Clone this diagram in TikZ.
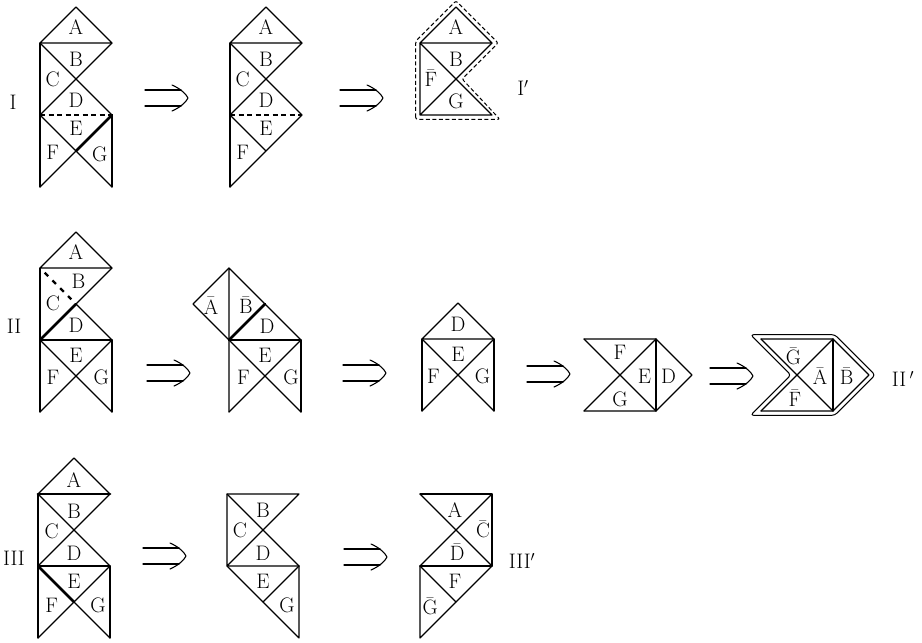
\documentclass[tikz,border=0pt]{standalone}
\usepackage{amsmath}
\usepackage{tikz}
\def\lbl{\fontsize{21}{23}\selectfont}
\def\bb#1{$\bar{\mathrm{#1}}$}
\newcommand{\foldarrow}[2]{%
  \draw (#1,#2-8) -- ++(36,0) (#1,#2+8) -- ++(36,0);
  \draw (#1+27,#2-13) .. controls (#1+36,#2-9) and (#1+41,#2-4) .. (#1+43,#2) .. controls (#1+41,#2+4) and (#1+36,#2+9) .. (#1+27,#2+13);}

\begin{document}
\begin{tikzpicture}[x=1pt,y=-1pt,line width=1.1pt,line join=round,line cap=round,
  fold/.style={line width=2.7pt},
  crease/.style={line width=2pt,dash pattern=on 5pt off 3.5pt,line cap=butt},
  slit/.style={line width=2.2pt,dash pattern=on 5pt off 6pt,line cap=butt},
  hem/.style={line width=1pt,dash pattern=on 4pt off 2.5pt,line cap=butt,rounded corners=2pt},
  rim/.style={line width=1pt,rounded corners=3pt},
  lab/.style={font=\lbl,inner sep=0pt}]
\useasboundingbox (0,0) rectangle (922,643);

%% row I
\node[lab] (rowI) at (13,102) {I};
\begin{scope}[shift={(40,187)},x=36pt,y=36pt]
\draw (0,4) -- (1,5) -- (2,4) -- cycle;
\draw (0,0) -- (0,4) (2,0) -- (2,2);
\draw (0,4) -- (2,2) (2,4) -- (0,2);
\draw (0,2) -- (2,0) (2,2) -- (0,0);
\draw[crease] (0,2) -- (2,2);
\draw[fold] (2,2) -- (1,1);
\node[lab] (f1A) at (1,4.45) {A};
\node[lab] (f1B) at (1,3.55) {B};
\node[lab] (f1C) at (0.35,3) {C};
\node[lab] (f1D) at (1,2.42) {D};
\node[lab] (f1E) at (1,1.62) {E};
\node[lab] (f1F) at (0.35,0.97) {F};
\node[lab] (f1G) at (1.66,0.92) {G};
\end{scope}

\begin{scope}[shift={(230,187)},x=36pt,y=36pt]
\draw (0,4) -- (1,5) -- (2,4) -- cycle;
\draw (0,0) -- (0,4);
\draw (0,4) -- (2,2) (2,4) -- (0,2);
\draw (2,2) -- (0,0) (0,2) -- (1,1);
\draw[crease] (0,2) -- (2,2);
\node[lab] (f2A) at (1,4.45) {A};
\node[lab] (f2B) at (1,3.55) {B};
\node[lab] (f2C) at (0.35,3) {C};
\node[lab] (f2D) at (1,2.42) {D};
\node[lab] (f2E) at (1,1.62) {E};
\node[lab] (f2F) at (0.35,0.97) {F};
\end{scope}

\begin{scope}[shift={(420,187)},x=36pt,y=36pt]
\draw (0,4) -- (1,5) -- (2,4) -- cycle;
\draw (0,2) -- (0,4) -- (2,2) -- (0,2) -- (2,4);
\draw[hem] (-0.12,1.88) -- (-0.12,4.05) -- (1,5.17) -- (2.17,4) -- (1.17,3) -- (2.22,1.88) -- cycle;
\node[lab] (f3A) at (1,4.45) {A};
\node[lab] (f3B) at (1,3.55) {B};
\node[lab] (f3Fb) at (0.3,3.02) {\bb F};
\node[lab] (f3G) at (1,2.38) {G};
\end{scope}
\node[lab] (rowIp) at (523,88) {I$'$};

\foldarrow{145}{98}
\foldarrow{340}{98}

%% row II
\node[lab] (rowII) at (14,326) {II};
\begin{scope}[shift={(40,412)},x=36pt,y=36pt]
\draw (0,4) -- (1,5) -- (2,4) -- cycle;
\draw (0,0) -- (0,4) (2,0) -- (2,2);
\draw (2,4) -- (1,3) -- (2,2);
\draw (0,2) -- (2,2);
\draw (0,2) -- (2,0) (2,2) -- (0,0);
\draw[fold] (0,2) -- (1,3);
\draw[slit] (0.13,3.87) -- (0.87,3.13);
\node[lab] (f4A) at (1,4.45) {A};
\node[lab] (f4B) at (1.07,3.62) {B};
\node[lab] (f4C) at (0.36,3.02) {C};
\node[lab] (f4D) at (1,2.4) {D};
\node[lab] (f4E) at (1,1.58) {E};
\node[lab] (f4F) at (0.36,0.97) {F};
\node[lab] (f4G) at (1.7,0.97) {G};
\end{scope}

\begin{scope}[shift={(229,412)},x=36pt,y=36pt]
\draw (0,4) -- (-1,3) -- (0,2);
\draw (0,0) -- (0,4) -- (2,2);
\draw (2,0) -- (2,2) -- (0,2);
\draw (0,2) -- (2,0) (2,2) -- (0,0);
\draw[fold] (0,2) -- (1,3);
\node[lab] (f5Ab) at (-0.5,2.95) {\bb A};
\node[lab] (f5Bb) at (0.47,2.97) {\bb B};
\node[lab] (f5D) at (1.06,2.38) {D};
\node[lab] (f5E) at (1,1.58) {E};
\node[lab] (f5F) at (0.4,0.97) {F};
\node[lab] (f5G) at (1.72,0.97) {G};
\end{scope}

\begin{scope}[shift={(422,411)},x=36pt,y=36pt]
\draw (0,2) -- (1,3) -- (2,2) -- cycle;
\draw (0,0) -- (0,2) (2,0) -- (2,2);
\draw (0,2) -- (2,0) (2,2) -- (0,0);
\node[lab] (f6D) at (1,2.4) {D};
\node[lab] (f6E) at (1,1.56) {E};
\node[lab] (f6F) at (0.32,0.95) {F};
\node[lab] (f6G) at (1.68,0.95) {G};
\end{scope}

\begin{scope}[shift={(584,411)},x=36pt,y=36pt]
\draw (0,2) -- (2,2) -- (3,1) -- (2,0) -- (0,0);
\draw (2,0) -- (2,2);
\draw (0,2) -- (2,0) (0,0) -- (2,2);
\node[lab] (f7F) at (1,1.64) {F};
\node[lab] (f7G) at (1,0.33) {G};
\node[lab] (f7E) at (1.68,0.97) {E};
\node[lab] (f7D) at (2.35,0.97) {D};
\end{scope}

\begin{scope}[shift={(761,411)},x=36pt,y=36pt]
\draw (0,2) -- (2,2) -- (3,1) -- (2,0) -- (0,0);
\draw (2,0) -- (2,2);
\draw (0,2) -- (2,0) (0,0) -- (2,2);
\draw[rim] (-0.29,2.12) -- (2.05,2.12) -- (3.17,1) -- (2.05,-0.12) -- (-0.29,-0.12) -- (0.83,1) -- cycle;
\node[lab] (f8Gb) at (0.9,1.52) {\bb G};
\node[lab] (f8Ab) at (1.64,0.96) {\bb A};
\node[lab] (f8Bb) at (2.38,0.96) {\bb B};
\node[lab] (f8Fb) at (0.94,0.36) {\bb F};
\end{scope}
\node[lab] (rowIIp) at (903,379) {II\,$'$};

\foldarrow{147}{373}
\foldarrow{343}{373}
\foldarrow{527}{374}
\foldarrow{710}{376}

%% row III
\node[lab] (rowIII) at (14,558) {III};
\begin{scope}[shift={(38,638)},x=36pt,y=36pt]
\draw (0,4) -- (1,5) -- (2,4);
\draw[fold] (0,4) -- (2,4);
\draw (0,0) -- (0,4) (2,0) -- (2,2);
\draw (0,4) -- (2,2) (2,4) -- (0,2);
\draw (0,2) -- (2,2);
\draw (0,2) -- (2,0) (2,2) -- (0,0);
\draw[fold] (0,2) -- (1,1);
\node[lab] (f9A) at (1,4.4) {A};
\node[lab] (f9B) at (1,3.52) {B};
\node[lab] (f9C) at (0.38,2.95) {C};
\node[lab] (f9D) at (1,2.34) {D};
\node[lab] (f9E) at (1,1.56) {E};
\node[lab] (f9F) at (0.38,0.92) {F};
\node[lab] (f9G) at (1.67,0.92) {G};
\end{scope}

\begin{scope}[shift={(227,638)},x=36pt,y=36pt]
\draw (0,2) -- (0,4) -- (2,4) -- (0,2) -- (2,2);
\draw (0,4) -- (2,2);
\draw (0,2) -- (2,0) -- (2,2);
\draw (2,2) -- (1,1);
\node[lab] (f10B) at (1,3.55) {B};
\node[lab] (f10C) at (0.36,2.98) {C};
\node[lab] (f10D) at (1,2.35) {D};
\node[lab] (f10E) at (1,1.56) {E};
\node[lab] (f10G) at (1.67,0.92) {G};
\end{scope}

\begin{scope}[shift={(420,638)},x=36pt,y=36pt]
\draw (0,4) -- (2,4) -- (2,2);
\draw (0,4) -- (2,2) (2,4) -- (0,2);
\draw (0,2) -- (2,2);
\draw (0,0) -- (0,2) (2,2) -- (0,0);
\draw (0,2) -- (1,1);
\node[lab] (f11A) at (0.97,3.56) {A};
\node[lab] (f11Cb) at (1.75,3.02) {\bb C};
\node[lab] (f11Db) at (1.03,2.38) {\bb D};
\node[lab] (f11F) at (0.97,1.56) {F};
\node[lab] (f11Gb) at (0.28,0.88) {\bb G};
\end{scope}
\node[lab] (rowIIIp) at (522,561) {III$'$};

\foldarrow{143}{556}
\foldarrow{344}{557}
\end{tikzpicture}
\end{document}
